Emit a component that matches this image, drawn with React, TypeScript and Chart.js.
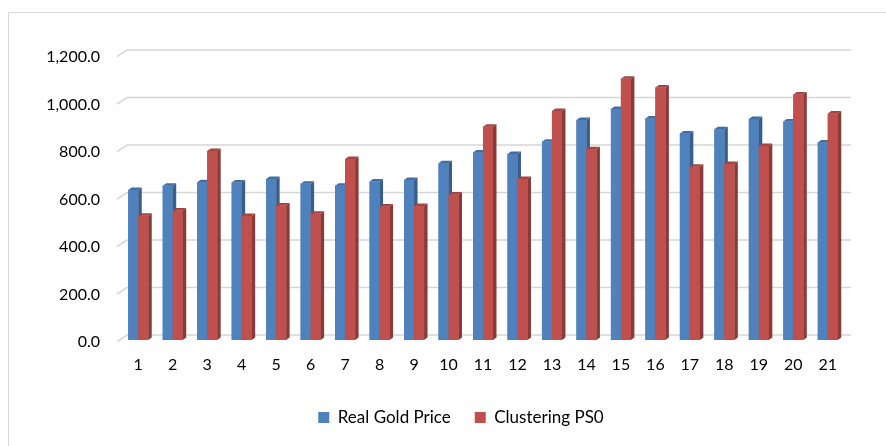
import React, { useEffect, useRef } from "react";
import { Chart, registerables } from "chart.js";

Chart.register(...registerables);

const categories = ["1","2","3","4","5","6","7","8","9","10","11","12","13","14","15","16","17","18","19","20","21"];
const realGoldPrice = [632, 650, 664, 663, 678, 658, 650, 667, 674, 744, 790, 783, 835, 926, 973, 933, 870, 887, 931, 920, 832];
const clusteringPSO = [523, 545, 796, 522, 566, 532, 762, 562, 564, 613, 898, 678, 964, 803, 1100, 1063, 730, 741, 817, 1034, 954];
const seriesNames = ["Real Gold Price", "Clustering PS0"];
const yMin = 0;
const yMax = 1200;
const yStep = 200;

const frontColors = ["#4F81BD", "#C0504D"];
const sideColors = ["#385E8B", "#8A3A37"];
const topColors = ["#426DA0", "#A44542"];

const DX = 3.5;
const DY = 2.5;

const framePlugin = {
  id: "frame",
  beforeDraw(chart: any) {
    const ctx = chart.ctx;
    ctx.save();
    ctx.fillStyle = "#ffffff";
    ctx.fillRect(0, 0, chart.width, chart.height);
    ctx.strokeStyle = "#D9D9D9";
    ctx.lineWidth = 1;
    ctx.strokeRect(8.5, 12.5, 1200, 1200);
    ctx.restore();
  },
};

const gridPlugin = {
  id: "grid3d",
  beforeDatasetsDraw(chart: any) {
    const { ctx, chartArea } = chart;
    const ys = chart.scales.y;
    ctx.save();
    ctx.strokeStyle = "#D6D6D6";
    ctx.lineWidth = 1.6;
    ys.ticks.forEach((t: any) => {
      const yf = ys.getPixelForValue(t.value) + 1.7;
      ctx.beginPath();
      ctx.moveTo(chartArea.left - 4, yf);
      ctx.lineTo(chartArea.left + 6, yf - 6.7);
      ctx.lineTo(chartArea.right + 6, yf - 6.7);
      ctx.stroke();
    });
    ctx.restore();
  },
};

const bars3dPlugin = {
  id: "bars3d",
  afterDatasetsDraw(chart: any) {
    const ctx = chart.ctx;
    const metas = [chart.getDatasetMeta(0), chart.getDatasetMeta(1)];
    const n = categories.length;
    ctx.save();
    for (let i = 0; i < n; i++) {
      for (let d = 0; d < metas.length; d++) {
        const el = metas[d].data[i];
        if (!el) continue;
        const { x, y, base, width } = el.getProps(["x", "y", "base", "width"], true);
        const l = x - width / 2;
        const r = x + width / 2;
        ctx.fillStyle = frontColors[d];
        ctx.fillRect(l, y, r - l, base - y);
        ctx.fillStyle = sideColors[d];
        ctx.beginPath();
        ctx.moveTo(r, y);
        ctx.lineTo(r + DX, y - DY);
        ctx.lineTo(r + DX, base - DY);
        ctx.lineTo(r, base);
        ctx.closePath();
        ctx.fill();
        ctx.fillStyle = topColors[d];
        ctx.beginPath();
        ctx.moveTo(l, y);
        ctx.lineTo(l + DX, y - DY);
        ctx.lineTo(r + DX, y - DY);
        ctx.lineTo(r, y);
        ctx.closePath();
        ctx.fill();
      }
    }
    ctx.restore();
  },
};

export default function App() {
  const ref = useRef<HTMLCanvasElement | null>(null);

  useEffect(() => {
    if (!ref.current) return;
    Chart.defaults.font.family = "Lato";
    const chart = new Chart(ref.current, {
      type: "bar",
      data: {
        labels: categories,
        datasets: [
          { label: seriesNames[0], data: realGoldPrice, backgroundColor: frontColors[0] },
          { label: seriesNames[1], data: clusteringPSO, backgroundColor: frontColors[1] },
        ],
      },
      options: {
        responsive: false,
        animation: false,
        devicePixelRatio: 1,
        layout: { padding: { left: 45, right: 9, top: 55, bottom: 10 } },
        datasets: {
          bar: { categoryPercentage: 0.58, barPercentage: 1.0 },
        },
        scales: {
          x: {
            grid: { display: false, drawTicks: false },
            border: { display: false },
            ticks: {
              color: "#000000",
              font: { family: "Lato", size: 16 },
              padding: 15,
              maxRotation: 0,
              autoSkip: false,
            },
            afterFit(scale: any) {
              scale.height = 45;
            },
          },
          y: {
            min: yMin,
            max: yMax,
            grid: { display: false, drawTicks: false },
            border: { display: false },
            ticks: {
              stepSize: yStep,
              color: "#000000",
              font: { family: "Lato", size: 16 },
              padding: 21,
              labelOffset: 2,
              callback: (v: any) =>
                Number(v).toLocaleString("en-US", { minimumFractionDigits: 1, maximumFractionDigits: 1 }),
            },
            afterFit(scale: any) {
              scale.width = 76;
            },
          },
          y2: {
            type: "linear",
            position: "right",
            grid: { display: false, drawTicks: false },
            border: { display: false },
            ticks: { display: false },
            afterFit(scale: any) {
              scale.width = 32;
            },
          },
        },
        plugins: {
          legend: {
            position: "bottom",
            labels: {
              boxWidth: 11,
              boxHeight: 11,
              padding: 24,
              color: "#000000",
              font: { family: "Lato", size: 17 },
            },
          },
          tooltip: { enabled: false },
        },
      },
      plugins: [framePlugin, gridPlugin, bars3dPlugin],
    });
    return () => chart.destroy();
  }, []);

  return (
    <div
      style={{
        position: "fixed",
        left: 0,
        top: 0,
        width: 886,
        height: 446,
        overflow: "hidden",
        background: "#fff",
      }}
    >
      <canvas ref={ref} width={886} height={446} style={{ display: "block" }} />
    </div>
  );
}
